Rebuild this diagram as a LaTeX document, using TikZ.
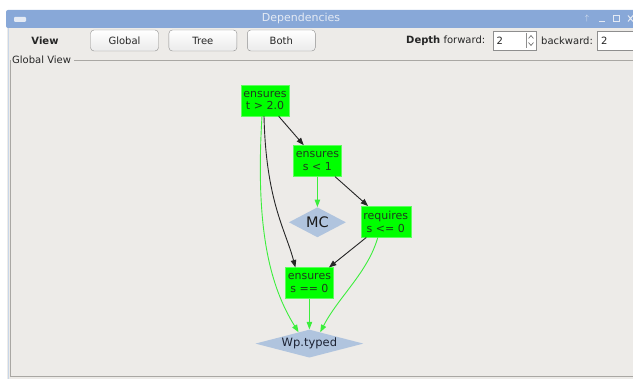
\documentclass[tikz,border=0pt]{standalone}
\usepackage{fontspec}
\setmainfont{DejaVu Sans}
\usepackage{xcolor}
\definecolor{winBg}{HTML}{EDEBE8}
\definecolor{titleBlue}{HTML}{88A8D8}
\definecolor{titleText}{HTML}{E4EAF4}
\definecolor{frameGray}{HTML}{A9A7A3}
\definecolor{buttonLine}{HTML}{8E8E8E}
\definecolor{propGreen}{HTML}{00FF00}
\definecolor{propLine}{HTML}{5CFF5C}
\definecolor{propText}{HTML}{1F3A1F}
\definecolor{edgeGreen}{HTML}{3CEE3C}
\definecolor{goalBlue}{HTML}{B0C4DE}
\definecolor{goalText}{HTML}{1C2233}
\usepackage{tikz}
\usetikzlibrary{positioning,calc,arrows.meta,shapes.geometric}
\tikzset{%
  propBox/.style={%
    rectangle,
    draw=propLine,
    fill=propGreen,
    text=propText,
    minimum width=48pt,
    minimum height=31pt,
    inner sep=1pt,
    align=center,
    font=\fontsize{11}{12.5}\selectfont
  },
  goalDiamond/.style={%
    diamond,
    fill=goalBlue,
    text=goalText,
    inner sep=0pt,
    aspect=3
  },
  depArrow/.style={%
    -{Triangle[length=7.5pt,width=5.5pt]},
    line width=0.9pt,
    color=black!85
  },
  goalArrow/.style={%
    -{Triangle[length=7.5pt,width=5.5pt]},
    line width=0.9pt,
    color=edgeGreen
  },
  uiButton/.style={%
    rectangle,
    rounded corners=3.5pt,
    draw=buttonLine,
    top color=white,
    bottom color=black!8,
    minimum width=68pt,
    minimum height=21pt,
    text=black!85,
    font=\fontsize{10}{12}\selectfont
  },
  spinField/.style={%
    rectangle,
    draw=buttonLine,
    fill=white,
    minimum width=43pt,
    minimum height=19pt,
    inner sep=0pt
  },
  uiLabel/.style={%
    inner sep=0pt,
    text=black!85,
    font=\fontsize{10}{12}\selectfont
  }
}

\begin{document}
\begin{tikzpicture}[x=1pt,y=-1pt,node distance=30pt]
  \useasboundingbox[fill=white] (0,0) rectangle (633,379);

  % window and title bar
  \fill[winBg] (7,10) rectangle (633,379);
  \draw[goalBlue!70] (8,27) -- (8,379);
  \fill[titleBlue, rounded corners=2pt] (6,10) rectangle (640,28);
  \node[fill=titleText, rounded corners=1pt, minimum width=12pt,
        minimum height=5pt, inner sep=0pt] (winIcon) at (20,19.5) {};
  \node[text=titleText, font=\fontsize{11}{13}\selectfont] (title) at (301,18.5) {Dependencies};
  \node[text=titleText, font=\fontsize{8}{9}\selectfont, inner sep=0pt] (upIcon) at (587,18.5) {$\uparrow$};
  \draw[titleText, line width=1pt] (599,21.5) -- (605,21.5);
  \draw[titleText, line width=0.8pt] (613,15.5) rectangle (619,21.5);
  \draw[titleText, line width=1pt] (628,15.5) -- (633,21.5) (628,21.5) -- (633,15.5);

  % toolbar
  \node[uiLabel, font=\fontsize{10}{12}\selectfont\bfseries] (viewLabel) at (45,40.5) {View};
  \node[uiButton] (globalBtn) at (124.5,40.5) {Global};
  \node[uiButton, right=10pt of globalBtn] (treeBtn) {Tree};
  \node[uiButton, right=10pt of treeBtn] (bothBtn) {Both};

  \node[uiLabel, anchor=west] (depthLabel) at (406,40.5) {\textbf{Depth} forward:};
  \node[spinField, anchor=west] (fwdField) at (492.5,40.5) {};
  \node[uiLabel, anchor=west] (fwdValue) at (496.5,40.5) {2};
  \node[uiLabel, anchor=west] (backLabel) at (541,40.5) {backward:};
  \node[spinField, anchor=west] (backField) at (597,40.5) {};
  \node[uiLabel, anchor=west] (backValue) at (601,40.5) {2};
  \draw[buttonLine] (526.5,33) -- (526.5,48);
  \draw[black!60, line width=0.6pt] (528.5,38.5) -- (531,35.5) -- (533.5,38.5);
  \draw[black!60, line width=0.6pt] (528.5,42.5) -- (531,45.5) -- (533.5,42.5);

  % group box
  \draw[frameGray] (10,60.5) -- (11,60.5) (74,60.5) -- (633,60.5);
  \draw[frameGray] (10,60.5) -- (10,376) -- (633,376);
  \node[uiLabel, anchor=west] (groupTitle) at (12,60) {Global View};

  % dependency graph
  \node[propBox] (tGt) at (265,100.5) {ensures\\t > 2.0};
  \node[propBox, below right=29pt and 4pt of tGt] (sLt) {ensures\\s < 1};
  \node[goalDiamond, below=30.5pt of sLt, minimum width=57pt, minimum height=30pt,
        text=black!90, font=\fontsize{14.5}{16}\selectfont] (mc) {MC};
  \node[propBox, minimum width=50pt, below right=29.5pt and 19pt of sLt] (sLe) {requires\\s <= 0};
  \node[propBox, below left=30pt and 27pt of sLe] (sEq) {ensures\\s == 0};
  \node[goalDiamond, below=30.5pt of sEq, minimum width=108pt, minimum height=28pt,
        aspect=4, font=\fontsize{11.5}{13}\selectfont] (wp) {Wp.typed};

  \draw[depArrow] (tGt) -- (sLt);
  \draw[goalArrow] (sLt) -- (mc);
  \draw[depArrow] (sLt) -- (sLe);
  \draw[depArrow] (sLe) -- (sEq);
  \draw[goalArrow] (sEq) -- (wp);
  \draw[depArrow] ([xshift=-1pt]tGt.south) .. controls +(2,85) and +(-10,-38) .. ([xshift=-14pt]sEq.north);
  \draw[goalArrow] ([xshift=-3pt]tGt.south) .. controls +(-7,115) and +(-28,-45) .. ($(wp.north)!0.2!(wp.west)$);
  \draw[goalArrow] ([xshift=-8pt]sLe.south) .. controls +(-10,35) and +(18,-35) .. ($(wp.north)!0.2!(wp.east)$);
\end{tikzpicture}
\end{document}
